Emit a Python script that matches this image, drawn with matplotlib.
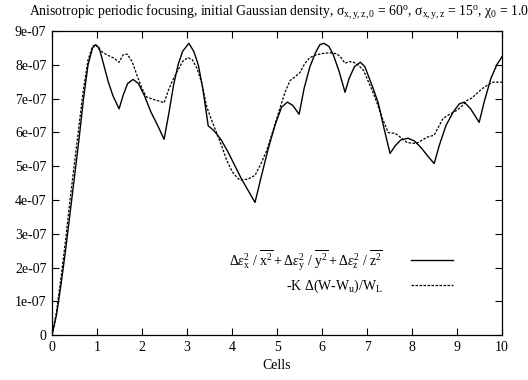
import matplotlib
matplotlib.use("Agg")
import matplotlib.pyplot as plt

# data (y in units of 1e-07)
x_solid = [0.0, 0.1, 0.2, 0.3, 0.4, 0.5, 0.6, 0.7, 0.8, 0.9, 0.97, 1.05, 1.15, 1.25, 1.35, 1.49,
           1.58, 1.68, 1.8, 1.92, 2.05, 2.2, 2.35, 2.49, 2.6, 2.7, 2.8, 2.9, 3.04, 3.15, 3.25,
           3.35, 3.47, 3.6, 3.75, 3.9, 4.05, 4.2, 4.35, 4.51, 4.65, 4.8, 4.95, 5.1, 5.23, 5.35,
           5.49, 5.6, 5.73, 5.85, 5.95, 6.04, 6.15, 6.25, 6.38, 6.51, 6.6, 6.72, 6.85, 6.95,
           7.05, 7.15, 7.25, 7.38, 7.51, 7.62, 7.75, 7.91, 8.05, 8.2, 8.35, 8.49, 8.6, 8.75,
           8.91, 9.05, 9.16, 9.3, 9.49, 9.6, 9.75, 9.88, 10.0]
y_solid = [0.0, 0.6, 1.5, 2.5, 3.6, 4.7, 5.8, 7.0, 8.0, 8.5, 8.6, 8.5, 8.0, 7.5, 7.1, 6.7,
           7.1, 7.45, 7.57, 7.45, 7.1, 6.6, 6.2, 5.8, 6.6, 7.4, 8.0, 8.4, 8.64, 8.4, 8.0,
           7.3, 6.2, 6.05, 5.8, 5.45, 5.05, 4.65, 4.3, 3.93, 4.7, 5.5, 6.2, 6.75, 6.9, 6.8,
           6.54, 7.3, 7.95, 8.35, 8.6, 8.64, 8.55, 8.3, 7.8, 7.19, 7.6, 7.95, 8.08, 7.95,
           7.6, 7.25, 6.86, 6.1, 5.38, 5.6, 5.78, 5.83, 5.75, 5.55, 5.3, 5.08, 5.6, 6.2,
           6.6, 6.85, 6.9, 6.7, 6.3, 6.9, 7.6, 8.0, 8.25]

x_dash = [0.0, 0.1, 0.2, 0.3, 0.4, 0.5, 0.6, 0.7, 0.8, 0.9, 0.97, 1.05, 1.15, 1.25, 1.38, 1.49,
          1.58, 1.67, 1.78, 1.9, 2.0, 2.1, 2.25, 2.38, 2.49, 2.6, 2.7, 2.8, 2.9, 3.02, 3.12,
          3.22, 3.32, 3.44, 3.55, 3.66, 3.77, 3.88, 4.0, 4.1, 4.18, 4.35, 4.51, 4.65, 4.77,
          4.92, 5.07, 5.18, 5.29, 5.4, 5.51, 5.62, 5.73, 5.87, 6.02, 6.18, 6.33, 6.43, 6.51,
          6.6, 6.7, 6.8, 6.92, 7.03, 7.14, 7.24, 7.33, 7.47, 7.55, 7.62, 7.75, 7.88, 8.0,
          8.1, 8.22, 8.33, 8.49, 8.6, 8.69, 8.85, 9.0, 9.12, 9.22, 9.33, 9.44, 9.56, 9.67,
          9.8, 9.9, 10.0]
y_dash = [0.0, 0.7, 1.7, 2.8, 4.0, 5.1, 6.2, 7.3, 8.15, 8.55, 8.6, 8.45, 8.35, 8.28, 8.2, 8.08,
          8.3, 8.32, 8.1, 7.65, 7.3, 7.05, 6.98, 6.93, 6.88, 7.3, 7.6, 7.85, 8.1, 8.22, 8.15,
          7.9, 7.5, 6.75, 6.35, 5.98, 5.6, 5.18, 4.85, 4.68, 4.59, 4.62, 4.73, 5.1, 5.47,
          6.1, 6.75, 7.2, 7.54, 7.65, 7.78, 8.05, 8.22, 8.3, 8.34, 8.36, 8.33, 8.2, 8.05,
          8.1, 8.08, 8.0, 7.84, 7.5, 7.16, 6.8, 6.45, 6.0, 5.98, 5.98, 5.85, 5.71, 5.68,
          5.68, 5.77, 5.86, 5.92, 6.2, 6.42, 6.55, 6.66, 6.8, 6.95, 7.02, 7.16, 7.3, 7.4,
          7.49, 7.49, 7.49]

xticks = [0, 1, 2, 3, 4, 5, 6, 7, 8, 9, 10]
yticks = [0, 1, 2, 3, 4, 5, 6, 7, 8, 9]
ytick_labels = ['0', '1e-07', '2e-07', '3e-07', '4e-07', '5e-07', '6e-07', '7e-07', '8e-07', '9e-07']

plt.rcParams['font.family'] = ['Liberation Serif', 'DejaVu Serif']
plt.rcParams['mathtext.fontset'] = 'custom'
plt.rcParams['mathtext.rm'] = 'Liberation Serif'
plt.rcParams['mathtext.it'] = 'Liberation Serif:italic'
plt.rcParams['mathtext.bf'] = 'Liberation Serif:bold'

fig = plt.figure(figsize=(5.28, 3.80), dpi=100)
ax = fig.add_axes([0.0985, 0.118, 0.8525, 0.800])

lab1 = (r'$\Delta\varepsilon_{\mathrm{x}}^2\ /\ \overline{\mathrm{x}^2} + '
        r'\Delta\varepsilon_{\mathrm{y}}^2\ /\ \overline{\mathrm{y}^2} + '
        r'\Delta\varepsilon_{\mathrm{z}}^2\ /\ \overline{\mathrm{z}^2}$')
lab2 = r'-K $\mathregular{\Delta}$(W-W$_\mathregular{u}$)/W$_\mathregular{L}$'

ax.plot(x_solid, y_solid, color='black', lw=1.0, label=lab1)
ax.plot(x_dash, y_dash, color='black', lw=0.9, ls=(0, (2, 1.2)), label=lab2)

ax.set_xlim(0, 10)
ax.set_ylim(0, 9)
ax.set_xticks(xticks)
ax.set_yticks(yticks)
ax.set_yticklabels(ytick_labels)
ax.tick_params(direction='in', length=5, width=0.8, top=True, right=True,
               labelsize=10, pad=4)
for s in ax.spines.values():
    s.set_linewidth(0.9)

ax.set_xlabel('Cells', fontsize=10, labelpad=4)
ax.set_title(r'Anisotropic periodic focusing, initial Gaussian density, '
             r'$\mathregular{\sigma_{x,y,z,0}}$ = 60$\mathregular{^o}$, '
             r'$\mathregular{\sigma_{x,y,z}}$ = 15$\mathregular{^o}$, '
             r'$\mathregular{\chi_0}$ = 1.0', fontsize=9.9, pad=11, x=0.505)

ax.legend(loc='center right', bbox_to_anchor=(0.89, 0.21), frameon=False,
          markerfirst=False, fontsize=10, handlelength=3.0, handletextpad=2.0,
          borderpad=0, borderaxespad=0, labelspacing=0.35)

fig.savefig('out.png', dpi=100)
